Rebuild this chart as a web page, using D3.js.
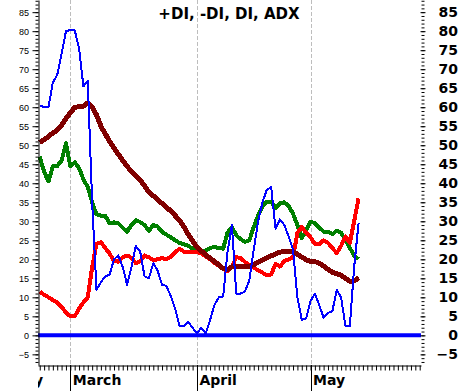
<!DOCTYPE html>
<html>
<head>
<meta charset="utf-8">
<script src="https://cdnjs.cloudflare.com/ajax/libs/d3/7.8.5/d3.min.js"></script>
<style>
body { margin: 0; background: #fff; }
svg { display: block; }
</style>
</head>
<body>
<svg id="vimage" width="460" height="391"></svg>
<script>
// one value per trading day, day 0 = first day shown
var plusDI = [47,43,40.5,44.5,44.5,46,50.5,44.5,45.5,44,
	41,39,35,31.8,31.5,31.4,29.5,29.7,29.5,28.3,
	27.3,29,30.3,29.8,29,27.5,29,28.6,27.2,26.5,
	25.8,25,24.3,24,23.5,22.8,22,22,22.3,23,
	23.2,23,22.8,27,28.5,26.3,25.3,24.6,25,28.5,
	31.5,34,35.2,35.2,33.5,34.7,35,34,32,29,
	25.6,27.5,29.9,29.5,28.3,27.3,27.3,26.6,27.5,27,
	25,23,21,20];
var minusDI = [11.5,10.7,10,9.3,8.6,7.5,6,5,5,7,
	8.7,10,18,24,24.5,23,21.5,19.5,19.4,20.5,
	21,20.4,19,19.5,21,20.5,19.8,20,20.3,20,
	20.6,21.8,22.8,22,22,22,22,21.5,20.8,20,
	19,18.3,17.5,16.8,18,20.6,20.3,19.3,18.5,17.8,
	17.1,16.5,15.8,16,18.8,18.1,19.5,20,20.5,27,
	28.5,27,25.8,24,24,25,24.3,23,21.6,23.5,
	26,24.3,30,36];
var di = [60.5,60,60,66.5,68.5,74,80,80.3,80.3,75.5,
	65.5,67,35,12,14,15.5,16,20,21,18,
	13.3,18,23.5,22,15.5,15,19,17,13.3,13,
	10.3,7,2.4,2.4,3.5,2,0.5,2,0.5,4,
	8,10,10.2,22,29,11,11,11.5,14.5,22.5,
	30,35,38.3,39,28,30.5,29,26,22.5,10,
	4.1,4.5,9,11,8,4.6,5.9,6.3,12,10,
	2.4,2.4,18,29.5];
var adx = [50.7,51.5,52.3,53.2,54,55.3,57,58.5,60,60.1,
	60.3,61.2,60,58,55,53,51,49.2,47.6,46,
	44.5,43,42,40.8,39.4,37.6,36.7,35.7,34.7,33.7,
	32.7,31.5,30.2,28.6,26.5,24.8,23.2,22.2,21.2,20.3,
	19.5,18.5,17.6,17.3,18,18,18,18,18.1,18.6,
	19.2,19.8,20.4,20.9,21.4,21.9,22,22,22,21.3,
	20.6,19.9,19.4,19.4,19,18.2,17.4,16.6,16.2,15.8,
	15,14.2,14.3,15.2];

var months = ["February", "March", "April", "May"];
var monthStart = [-16, 7, 36, 62];   // day index where each month begins
var dayTicks = d3.range(0, 88);
var yMajor = d3.range(-5, 90, 5);
var yMinor = d3.range(-7, 89, 1);

var svg = d3.select("#vimage");
var x = d3.scaleLinear().domain([-0.4, 87.3]).range([38, 421]);
var y = d3.scaleLinear().domain([-7.8, 88.2]).range([365, 0]);

var bold = "'DejaVu Sans', Verdana, sans-serif";
var crisp = function(v){ return Math.round(v) + 0.5; };

// dashed month grid
svg.selectAll(".grid")
	.data(monthStart.filter(function(d){ return d >= 0; }))
	.enter().append("line")
	.attr("x1", function(d){ return crisp(x(d)); })
	.attr("x2", function(d){ return crisp(x(d)); })
	.attr("y1", 0).attr("y2", 365)
	.attr("stroke", "#bdbdbd")
	.attr("stroke-dasharray", "4,2");

// zero line
svg.append("line")
	.attr("x1", 38).attr("x2", 421)
	.attr("y1", y(0)).attr("y2", y(0))
	.attr("stroke", "#0000ff")
	.attr("stroke-width", 4);

var line = d3.line()
	.x(function(d, i){ return x(i); })
	.y(function(d){ return y(d); });

var series = [
	{values: plusDI, color: "#008000", width: 4},
	{values: minusDI, color: "#ff0000", width: 4},
	{values: adx, color: "#800000", width: 5},
	{values: di, color: "#0000ff", width: 2}
];

svg.selectAll(".series")
	.data(series)
	.enter().append("path")
	.attr("d", function(d){ return line(d.values); })
	.attr("fill", "none")
	.attr("stroke", function(d){ return d.color; })
	.attr("stroke-width", function(d){ return d.width; })
	.attr("stroke-linejoin", "round")
	.attr("shape-rendering", "crispEdges");

// left axis
svg.append("g")
	.attr("transform", "translate(38.5,0)")
	.call(d3.axisLeft(y).tickValues(yMinor).tickSize(3).tickSizeOuter(0).tickFormat(""));
var left = svg.append("g")
	.attr("transform", "translate(38.5,0)")
	.call(d3.axisLeft(y).tickValues(yMajor).tickSize(6).tickPadding(3.5));
left.select(".domain").remove();
left.selectAll("text")
	.attr("font-family", "'Liberation Sans', Arial, sans-serif")
	.attr("font-size", 9)
	.attr("fill", "#000");

// right axis
svg.append("g")
	.attr("transform", "translate(421.5,0)")
	.call(d3.axisRight(y).tickValues(yMinor).tickSize(3).tickFormat(""))
	.select(".domain").remove();
var right = svg.append("g")
	.attr("transform", "translate(420.5,0)")
	.call(d3.axisRight(y).tickValues(yMajor).tickSize(5));
right.select(".domain").remove();
right.selectAll("text")
	.attr("x", 37.5)
	.attr("text-anchor", "end")
	.attr("font-family", bold)
	.attr("font-weight", "bold")
	.attr("font-size", 14)
	.attr("fill", "#000");

// bottom axis
svg.append("g")
	.attr("transform", "translate(0,365.5)")
	.call(d3.axisBottom(x).tickValues(dayTicks).tickSize(5).tickSizeOuter(0).tickFormat(""));

svg.selectAll(".mline")
	.data(monthStart.filter(function(d){ return d >= 0; }))
	.enter().append("line")
	.attr("x1", function(d){ return crisp(x(d)); })
	.attr("x2", function(d){ return crisp(x(d)); })
	.attr("y1", 365).attr("y2", 391)
	.attr("stroke", "#000");

svg.append("clipPath").attr("id", "mclip")
	.append("rect").attr("x", 38).attr("y", 366).attr("width", 422).attr("height", 25);

svg.append("g").attr("clip-path", "url(#mclip)")
	.selectAll("text")
	.data(months)
	.enter().append("text")
	.attr("x", function(d, i){ return x(monthStart[i]) + 2.5; })
	.attr("y", 385)
	.attr("font-family", bold)
	.attr("font-weight", "bold")
	.attr("font-size", 14)
	.text(function(d){ return d; });

// title
svg.append("text")
	.attr("x", 229).attr("y", 19)
	.attr("text-anchor", "middle")
	.attr("font-family", bold)
	.attr("font-weight", "bold")
	.attr("font-size", 15)
	.text("+DI, -DI, DI, ADX");
</script>
</body>
</html>
